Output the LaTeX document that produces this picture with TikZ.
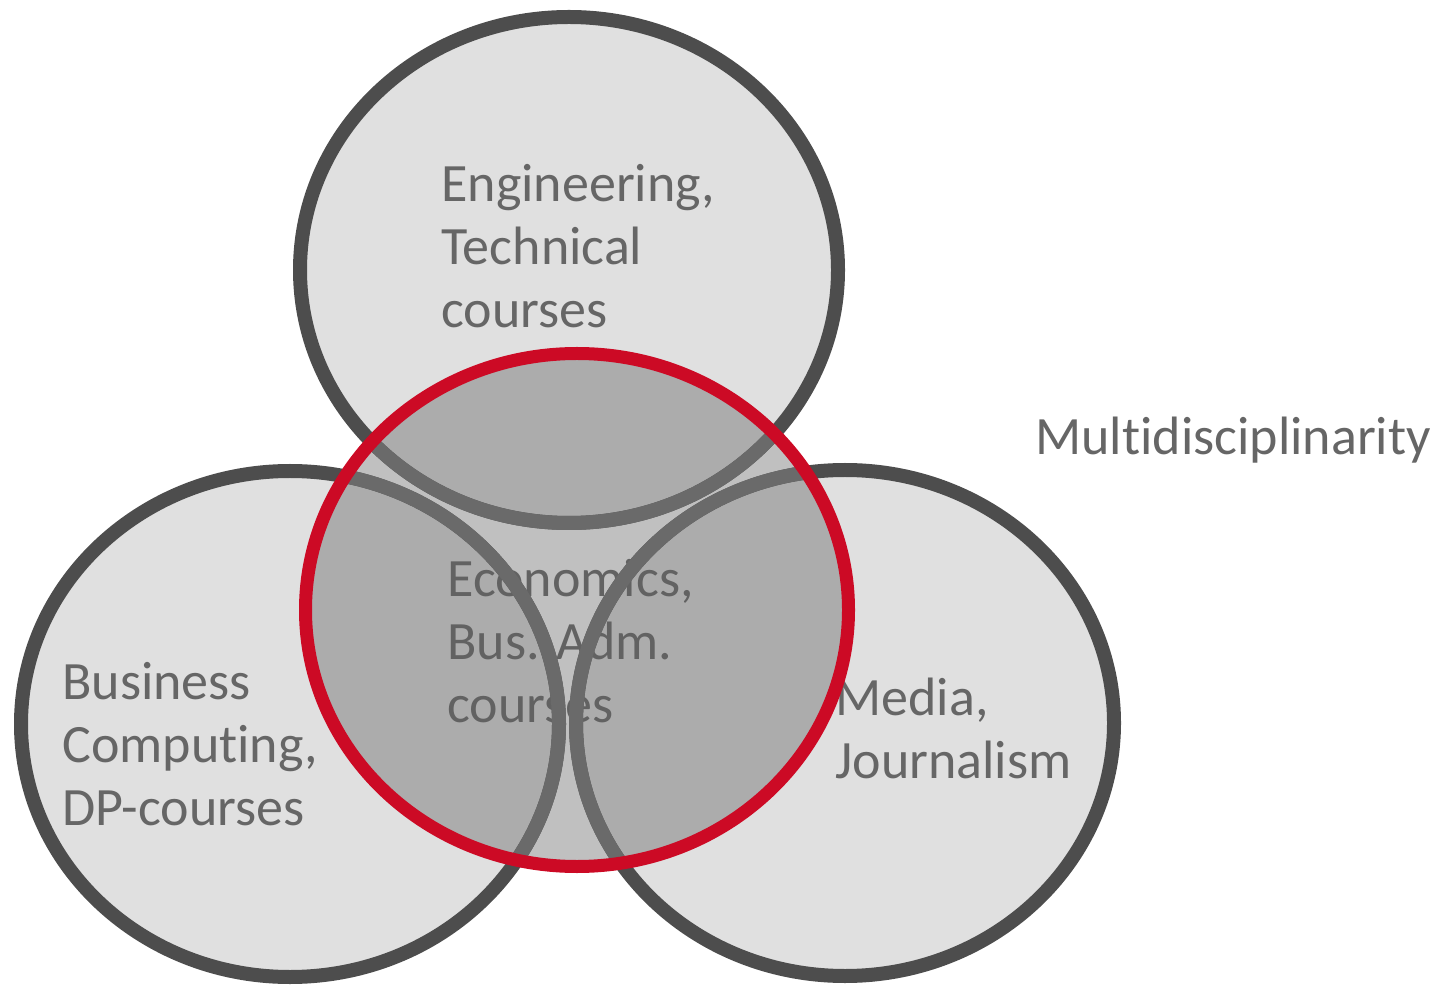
\documentclass[tikz,border=0pt]{standalone}
\usepackage{fontspec}
\setmainfont[Ligatures=NoCommon]{Carlito}
\definecolor{setgray}{HTML}{E0E0E0}
\definecolor{rimgray}{HTML}{4D4D4D}
\definecolor{innergray}{HTML}{6A6A6A}
\definecolor{txtgray}{HTML}{666666}
\definecolor{focusred}{HTML}{CC0A25}
\definecolor{focusgray}{HTML}{5C5C5C}

\begin{document}
\begin{tikzpicture}[x=0.5pt,y=-0.5pt,
	setfill/.style={fill=setgray},
	setrim/.style={draw=rimgray,line width=7pt},
	lbl/.style={anchor=north west,inner sep=0pt,align=left,text=txtgray,
		font=\fontsize{27}{31.5}\selectfont}]
	\useasboundingbox (0,0) rectangle (1440,988);

	%centres
	\coordinate (eng) at (569,270);
	\coordinate (bus) at (290,724);
	\coordinate (med) at (845,723);
	\coordinate (eco) at (577,610);

	%sets
	\foreach \c in {eng,bus,med}
		\path[setfill] (\c) ellipse [x radius=134.5pt, y radius=126.5pt];
	\foreach \c in {eng,bus,med}
		\path[setrim] (\c) ellipse [x radius=134.5pt, y radius=126.5pt];

	%labels
	\node[lbl] (englbl) at (441,157) {\strut Engineering,\\Technical\\courses};
	\node[lbl] (buslbl) at (62,655) {\strut Business\\Computing,\\DP-courses};
	\node[lbl] (medlbl) at (835,671) {\strut Media,\\Journalism};
	\node[lbl] (ecolbl) at (447,552) {\strut Economics,\\Bus. Adm.\\courses};
	\node[lbl] (multi) at (1035,410) {\strut Multidisciplinarity};

	%focus
	\fill[focusgray,fill opacity=0.39] (eco) ellipse [x radius=135.75pt, y radius=128.25pt];
	\begin{scope}
		\clip (eco) ellipse [x radius=135.75pt, y radius=128.25pt];
		\foreach \c in {eng,bus,med}
			\draw[innergray,line width=7pt] (\c) ellipse [x radius=134.5pt, y radius=126.5pt];
	\end{scope}
	\draw[focusred,line width=6.5pt] (eco) ellipse [x radius=135.75pt, y radius=128.25pt];
\end{tikzpicture}
\end{document}
